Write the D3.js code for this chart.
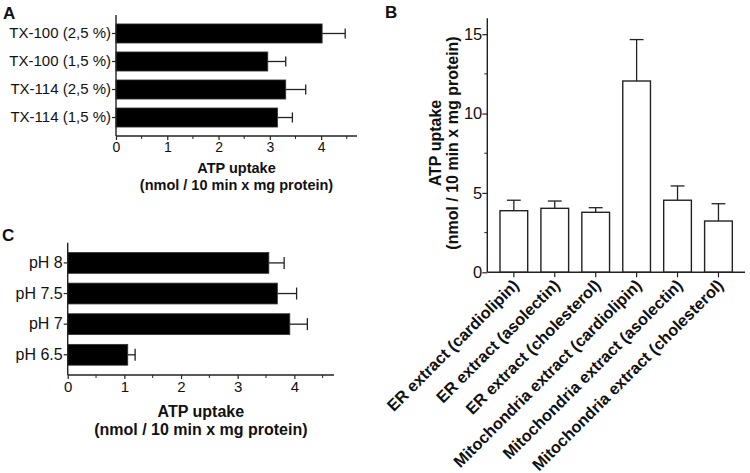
<!DOCTYPE html>
<html><head><meta charset="utf-8">
<script src="https://cdn.jsdelivr.net/npm/d3@7"></script>
<style>body{margin:0;background:#fff}svg{display:block}text{font-family:"Liberation Sans",Arial,sans-serif;fill:#111}</style>
</head><body><svg id="c" width="750" height="473"></svg>
<script>
// Panel A
const catsA = ["TX-100 (2,5 %)", "TX-100 (1,5 %)", "TX-114 (2,5 %)", "TX-114 (1,5 %)"];
const valsA = [4.02, 2.96, 3.31, 3.15];
const errA = [0.45, 0.35, 0.39, 0.29];
// Panel C
const catsC = ["pH 8", "pH 7.5", "pH 7", "pH 6.5"];
const valsC = [3.55, 3.70, 3.92, 1.06];
const errC = [0.27, 0.34, 0.31, 0.13];
// Panel B
const catsB = ["ER extract (cardiolipin)", "ER extract (asolectin)", "ER extract (cholesterol)",
  "Mitochondria extract (cardiolipin)", "Mitochondria extract (asolectin)", "Mitochondria extract (cholesterol)"];
const valsB = [3.88, 4.03, 3.78, 12.05, 4.54, 3.23];
const errB = [0.66, 0.46, 0.29, 2.61, 0.90, 1.09];
const ticksX = [0, 1, 2, 3, 4];
const ticksB = [0, 5, 10, 15];
const xTitle1 = "ATP uptake";
const xTitle2 = "(nmol / 10 min x mg protein)";

const svg = d3.select("#c");
const AX = "#222";

function hPanel(cfg) {
  const g = svg.append("g");
  const x = d3.scaleLinear().domain([0, 4.7]).range([cfg.x0, cfg.x1]);
  const y = d3.scaleBand().domain(cfg.cats).range([cfg.yTop, cfg.yBot]).paddingInner(0.32).paddingOuter(0.32);
  const bh = y.bandwidth();
  g.selectAll("rect.bar").data(cfg.vals).join("rect")
    .attr("x", x(0)).attr("y", (d, i) => y(cfg.cats[i]))
    .attr("width", d => x(d) - x(0)).attr("height", bh)
    .attr("fill", "#000").attr("stroke", "#333").attr("stroke-width", 0.8);
  cfg.vals.forEach((v, i) => {
    const cy = y(cfg.cats[i]) + bh / 2, xe = x(v + cfg.errs[i]);
    g.append("line").attr("x1", x(v)).attr("x2", xe).attr("y1", cy).attr("y2", cy).attr("stroke", AX).attr("stroke-width", 1.3);
    g.append("line").attr("x1", xe).attr("x2", xe).attr("y1", cy - cfg.cap).attr("y2", cy + cfg.cap).attr("stroke", AX).attr("stroke-width", 1.3);
  });
  const xa = g.append("g").attr("transform", `translate(0,${cfg.yBot})`)
    .call(d3.axisBottom(x).tickValues(ticksX).tickFormat(d3.format("d")).tickSize(4).tickSizeOuter(0));
  xa.select(".domain").attr("d", `M${cfg.x0},0H${cfg.x1}`);
  xa.selectAll("line").attr("stroke", AX).attr("stroke-width", 1.2);
  xa.select(".domain").attr("stroke", AX).attr("stroke-width", 1.4);
  xa.selectAll("text").attr("font-size", cfg.tickFs).attr("dy", "0.71em").attr("y", 6).attr("fill", "#111");
  g.append("g").attr("transform", `translate(0,${cfg.yBot})`).selectAll("line").data([0.5, 1.5, 2.5, 3.5, 4.5]).join("line")
    .attr("x1", d => x(d)).attr("x2", d => x(d)).attr("y1", 0).attr("y2", 3).attr("stroke", AX).attr("stroke-width", 1);
  const ya = g.append("g").attr("transform", `translate(${cfg.x0},0)`)
    .call(d3.axisLeft(y).tickSize(4).tickSizeOuter(0));
  ya.select(".domain").attr("d", `M0,${cfg.yAxTop}V${cfg.yBot}`).attr("stroke", AX).attr("stroke-width", 1.4);
  ya.selectAll("line").attr("stroke", AX).attr("stroke-width", 1.2);
  ya.selectAll("text").attr("font-size", cfg.catFs).attr("fill", "#111").attr("x", -5);
  const cx = (cfg.x0 + cfg.x1) / 2;
  g.append("text").attr("x", cx).attr("y", cfg.t1y).attr("text-anchor", "middle").attr("font-weight", "bold").attr("font-size", cfg.titleFs).text(xTitle1);
  g.append("text").attr("x", cx).attr("y", cfg.t2y).attr("text-anchor", "middle").attr("font-weight", "bold").attr("font-size", cfg.titleFs).text(xTitle2);
  g.append("text").attr("x", cfg.lx).attr("y", cfg.ly).attr("font-weight", "bold").attr("font-size", 17).text(cfg.label);
}

hPanel({cats: catsA, vals: valsA, errs: errA, x0: 116, x1: 357, yTop: 15, yBot: 136, yAxTop: 15,
  cap: 5, tickFs: 14, catFs: 15, titleFs: 14.5, t1y: 173, t2y: 190, label: "A", lx: 3, ly: 19});
hPanel({cats: catsC, vals: valsC, errs: errC, x0: 67.7, x1: 334, yTop: 242.7, yBot: 375, yAxTop: 242.7,
  cap: 6, tickFs: 15, catFs: 16, titleFs: 16, t1y: 416.5, t2y: 435, label: "C", lx: 2, ly: 241});

// Panel B
(function () {
  const g = svg.append("g");
  const x0 = 487.3, x1 = 745, yb = 272.3, yt = 18.3;
  const x = d3.scaleBand().domain(catsB).range([x0, x1]).paddingInner(0.323).paddingOuter(0.31);
  const y = d3.scaleLinear().domain([0, 16]).range([yb, yt]);
  const bw = x.bandwidth();
  catsB.forEach((c, i) => {
    const cx = x(c) + bw / 2, top = y(valsB[i]), te = y(valsB[i] + errB[i]);
    g.append("line").attr("x1", cx).attr("x2", cx).attr("y1", top).attr("y2", te).attr("stroke", AX).attr("stroke-width", 1.3);
    g.append("line").attr("x1", cx - bw / 4).attr("x2", cx + bw / 4).attr("y1", te).attr("y2", te).attr("stroke", AX).attr("stroke-width", 1.3);
  });
  g.selectAll("rect").data(valsB).join("rect")
    .attr("x", (d, i) => x(catsB[i])).attr("y", d => y(d))
    .attr("width", bw).attr("height", d => yb - y(d))
    .attr("fill", "#fff").attr("stroke", "#222").attr("stroke-width", 1.4);
  const ya = g.append("g").attr("transform", `translate(${x0},0)`)
    .call(d3.axisLeft(y).tickValues(ticksB).tickSize(5).tickSizeOuter(0));
  ya.select(".domain").attr("d", `M0,${yt}V${yb}`).attr("stroke", AX).attr("stroke-width", 1.4);
  ya.selectAll("line").attr("stroke", AX).attr("stroke-width", 1.2);
  ya.selectAll("text").attr("font-size", 16.5).attr("fill", "#111").attr("x", -5);
  g.append("g").selectAll("line").data([2.5, 7.5, 12.5]).join("line")
    .attr("x1", x0 - 3).attr("x2", x0).attr("y1", d => y(d)).attr("y2", d => y(d)).attr("stroke", AX).attr("stroke-width", 1);
  const xa = g.append("g").attr("transform", `translate(0,${yb})`)
    .call(d3.axisBottom(x).tickSize(5).tickSizeOuter(0));
  xa.select(".domain").attr("d", `M${x0},0H${x1}`).attr("stroke", AX).attr("stroke-width", 1.4);
  xa.selectAll("line").attr("stroke", AX).attr("stroke-width", 1.2);
  xa.selectAll("text").attr("font-size", 16.3).attr("font-weight", "bold").attr("fill", "#111")
    .attr("text-anchor", "end").attr("dy", 0).attr("y", 0)
    .attr("transform", "translate(6,14) rotate(-45)");
  const ty = 143;
  g.append("text").attr("transform", `translate(441,${ty}) rotate(-90)`).attr("text-anchor", "middle").attr("font-weight", "bold").attr("font-size", 16).text(xTitle1);
  g.append("text").attr("transform", `translate(458,${ty}) rotate(-90)`).attr("text-anchor", "middle").attr("font-weight", "bold").attr("font-size", 16).text(xTitle2);
  g.append("text").attr("x", 385).attr("y", 17.5).attr("font-weight", "bold").attr("font-size", 17).text("B");
})();
</script></body></html>
